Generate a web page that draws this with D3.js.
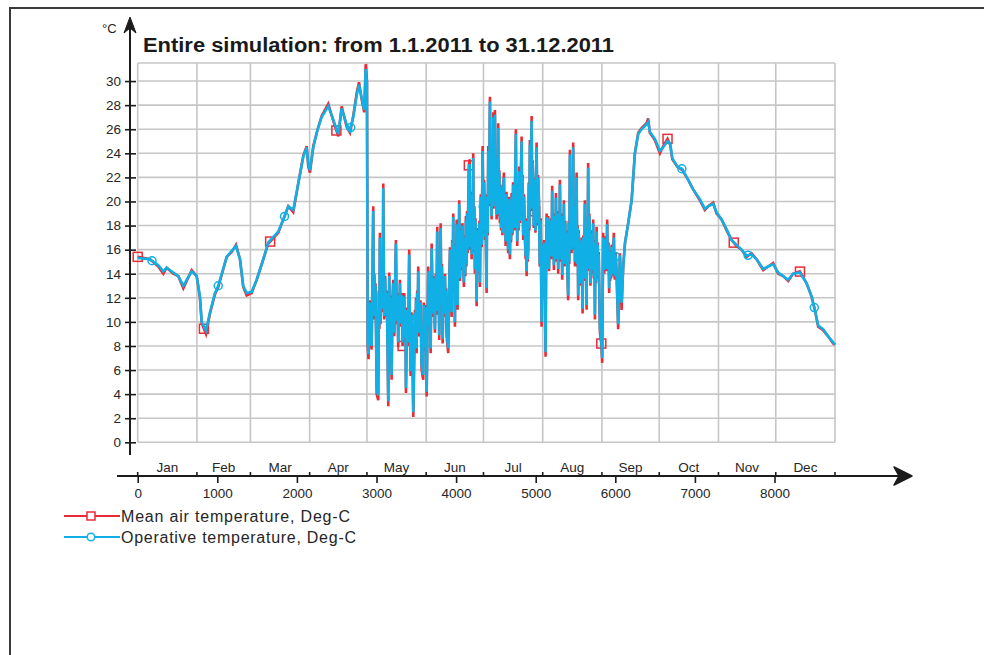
<!DOCTYPE html>
<html>
<head>
<meta charset="utf-8">
<script src="https://cdn.jsdelivr.net/npm/d3@7"></script>
<style>
  body { margin: 0; background: #fff; }
  svg { display: block; }
  text { font-family: "Liberation Sans", Arial, sans-serif; fill: #262626; }
</style>
</head>
<body>
<svg id="chart" width="984" height="655"></svg>
<script>
// Simulation hour of each sampled point (0 = 1 Jan 2011 00:00)
const hours = [
  // Jan - Apr
  0,154,259,322,364,447,510,573,678,741,
  782,804,858,908,971,1012,1118,1181,1235,1285,
  1326,1369,1432,1495,1578,1640,1766,1829,1892,1954,
  2017,2080,2123,2143,2164,2206,2261,2311,2394,2457,
  2520,2562,2625,2667,2708,2751,2780,2813,2846,2864,
  2880,
  // May - early Jun
  2890,2900,2913,2926,2939,2959,2966,2973,2980,2987,
  2995,3002,3022,3029,3036,3043,3050,3058,3065,3072,
  3078,3085,3096,3108,3119,3129,3138,3148,3160,3170,
  3180,3190,3200,3210,3223,3233,3244,3254,3263,3273,
  3280,3287,3294,3305,3316,3328,3335,3342,3349,3356,
  3363,3370,3384,3397,3411,3420,3429,3440,3451,3462,
  3483,3490,3497,3504,3511,3517,3524,3538,3552,3567,
  3587,3594,3602,3609,3616,3623,3630,3650,3660,3670,
  3680,3693,3707,3720,3734,3744,3753,3763,3771,3780,
  3788,3806,3814,3822,3831,3841,3850,3860,3867,3874,
  3881,3901,
  // Jun - early Sep
  3914,3924,3934,3944,3951,3958,3964,3971,3978,3985,
  3992,4000,4007,4011,4015,4019,4026,4033,4039,4049,
  4059,4069,4079,4089,4098,4106,4115,4123,4130,4138,
  4145,4152,4160,4170,4178,4187,4195,4202,4209,4215,
  4222,4229,4236,4243,4250,4258,4265,4272,4278,4285,
  4292,4299,4310,4322,4333,4343,4352,4362,4369,4376,
  4383,4390,4397,4404,4411,4418,4425,4432,4439,4446,
  4453,4460,4466,4473,4481,4488,4495,4502,4509,4516,
  4522,4529,4536,4543,4550,4557,4565,4572,4582,4591,
  4601,4608,4615,4622,4633,4644,4655,4662,4669,4676,
  4683,4690,4697,4707,4716,4726,4734,4742,4751,4757,
  4762,4768,4776,4785,4793,4803,4813,4823,4830,4836,
  4843,4853,4863,4873,4877,4882,4886,4893,4900,4906,
  4913,4920,4927,4934,4942,4949,4956,4962,4969,4976,
  4983,4990,4997,5004,5011,5021,5030,5040,5051,5062,
  5074,5081,5087,5094,5104,5114,5124,5130,5137,5147,
  5157,5167,5177,5187,5194,5200,5207,5214,5222,5229,
  5237,5246,5254,5264,5273,5283,5290,5297,5304,5314,
  5323,5333,5340,5347,5354,5362,5371,5379,5389,5398,
  5408,5415,5422,5430,5437,5444,5451,5458,5464,5471,
  5478,5486,5493,5500,5507,5514,5521,5527,5534,5541,
  5548,5555,5566,5578,5589,5599,5608,5618,5625,5632,
  5639,5646,5652,5659,5666,5674,5681,5688,5695,5702,
  5709,5716,5722,5729,5737,5744,5751,5758,5765,5772,
  5779,5785,5792,5800,5807,5824,5835,5848,5861,5868,
  5875,5882,5890,5898,5906,5915,5923,5929,5935,5941,
  5948,5954,5961,5968,5975,5982,5988,5995,6005,6016,
  6036,6058,6079,6099,
  // Sep - Dec
  6121,6162,6205,6246,6288,6330,6393,6413,6434,6497,
  6560,6602,6656,6690,6716,6779,6842,6915,6978,7062,
  7125,7167,7230,7272,7335,7398,7461,7523,7586,7649,
  7712,7775,7858,7921,7983,8046,8109,8172,8234,8318,
  8403,8466,8507,8549,8611,8674,8737,8760
];

// Mean air temperature, Deg-C
const meanAir = [
  15.4,15.2,14.6,14.0,14.5,14.0,13.8,12.8,14.3,13.8,
  12.0,9.9,9.0,10.7,12.3,12.9,15.4,15.8,16.4,15.2,
  12.9,12.2,12.4,13.5,15.2,16.5,17.4,18.5,19.6,19.1,
  21.5,23.8,24.6,22.9,22.4,24.6,26.0,27.1,28.1,26.7,
  25.4,27.9,26.2,25.7,27.1,29.0,29.9,28.5,27.4,31.4,
  30.1,

  7.9,6.9,11.8,8.6,7.7,19.6,10.2,14.0,11.0,13.2,
  8.6,4.0,3.5,12.6,9.4,17.4,9.8,13.6,11.3,14.6,
  10.8,21.5,10.2,13.8,10.4,12.6,8.2,3.0,14.1,8.4,
  12.2,5.2,11.6,13.5,8.8,12.8,16.8,9.8,12.4,7.9,
  12.0,9.6,13.5,9.6,12.4,8.0,11.4,9.2,12.4,8.4,
  11.0,4.1,11.2,8.0,16.0,9.0,5.5,10.8,7.6,2.1,
  11.0,8.2,12.0,7.4,12.6,9.2,14.6,8.8,11.8,6.0,
  5.2,11.6,8.8,10.7,7.6,11.4,3.8,14.6,9.4,12.6,
  7.4,16.5,10.4,13.8,9.1,14.0,10.6,17.9,11.2,14.4,
  8.5,18.2,11.6,14.8,8.2,12.6,10.4,14.0,10.6,12.8,
  8.8,7.4,

  13.5,16.2,12.0,10.4,16.8,12.6,19.0,12.8,16.5,9.6,
  16.0,12.4,18.5,13.2,16.4,11.0,17.6,13.6,20.1,13.4,
  17.8,14.3,18.2,14.8,12.9,17.2,13.8,18.8,14.6,19.2,
  15.7,19.6,23.0,23.5,16.0,20.4,15.2,20.8,16.4,24.0,
  15.8,19.6,14.0,18.6,15.2,11.3,17.8,14.2,17.4,14.0,
  18.4,12.9,20.6,16.2,24.6,17.4,21.8,16.8,20.2,15.8,
  12.4,20.6,17.2,24.6,19.8,23.4,28.7,19.6,23.0,18.5,
  24.2,19.4,27.4,19.8,24.4,27.6,19.4,23.6,18.5,23.8,
  19.2,26.5,18.8,22.6,18.2,21.4,17.6,19.9,17.2,21.0,
  22.4,17.8,20.6,16.3,20.8,17.4,15.7,20.4,17.0,15.2,
  19.8,16.6,20.7,17.2,21.6,19.6,17.6,22.0,26.0,18.4,
  21.2,16.3,21.4,17.6,22.9,18.2,22.0,25.4,18.8,22.2,
  16.8,20.6,17.4,15.2,18.6,15.8,13.8,18.4,15.0,16.0,
  21.6,17.6,25.1,19.4,23.2,27.1,19.2,23.4,21.0,17.8,
  22.0,19.9,17.4,21.8,24.9,18.0,22.2,20.1,14.6,18.6,
  9.6,16.6,13.2,12.4,16.8,12.2,7.1,14.4,19.0,15.4,
  18.8,14.2,18.2,15.2,18.6,15.6,21.3,15.2,18.6,14.3,
  19.0,15.4,20.7,15.0,18.8,14.0,19.2,15.6,21.8,15.0,
  19.0,13.5,18.6,15.0,20.1,14.6,18.4,15.2,17.6,14.2,
  11.8,18.4,14.8,24.3,16.4,20.6,15.7,20.2,16.2,24.9,
  16.0,19.8,14.6,19.6,15.6,22.4,14.6,18.0,11.8,17.6,
  13.4,16.8,13.0,17.0,10.7,17.2,13.4,20.1,13.6,17.0,
  11.0,17.8,14.2,23.2,15.6,19.0,16.8,13.0,17.2,14.0,
  17.6,14.8,18.5,13.6,16.4,10.2,16.8,13.2,17.9,13.6,
  16.6,13.8,15.8,12.0,9.1,8.2,6.6,17.4,14.0,16.8,
  14.2,17.1,14.8,18.5,14.2,16.6,12.4,16.0,13.4,15.2,
  13.6,16.4,16.3,13.8,16.0,17.4,14.0,13.5,15.8,14.0,
  9.4,15.7,11.0,14.6,

  16.5,18.2,20.1,24.0,25.7,26.1,26.5,26.9,25.7,25.1,
  24.0,24.6,25.2,24.7,23.5,22.9,22.6,21.8,21.0,20.1,
  19.3,19.6,19.9,19.0,18.5,17.6,16.8,16.3,16.0,15.4,
  15.7,15.2,14.3,14.6,14.9,14.0,13.8,13.4,14.0,14.2,
  13.2,12.1,11.0,9.6,9.3,8.8,8.2,8.1
];

// Operative temperature, Deg-C
const operative = [
  15.3,15.2,14.7,14.2,14.5,14.1,13.8,13.0,14.2,13.8,
  12.1,10.0,9.3,10.8,12.4,13.0,15.4,15.9,16.3,15.2,
  13.0,12.4,12.5,13.5,15.2,16.6,17.5,18.5,19.6,19.3,
  21.5,23.7,24.5,23.1,22.6,24.5,26.0,27.0,27.9,26.8,
  25.6,27.7,26.4,25.9,27.0,28.8,29.7,28.6,27.6,31.0,
  29.9,

  8.2,7.3,11.6,8.9,8.0,19.2,10.5,13.8,11.3,13.0,
  8.9,4.4,3.9,12.4,9.7,17.0,10.1,13.4,11.6,14.4,
  11.1,21.1,10.5,13.6,10.7,12.4,8.5,3.4,13.8,8.7,
  12.0,5.6,11.4,13.2,9.1,12.6,16.5,10.1,12.2,8.3,
  11.8,9.9,13.2,9.9,12.2,8.3,11.2,9.5,12.1,8.7,
  10.8,4.5,11.0,8.3,15.6,9.3,5.9,10.6,7.9,2.5,
  10.7,8.5,11.8,7.8,12.4,9.5,14.2,9.1,11.6,6.4,
  5.6,11.4,9.1,10.4,7.9,11.2,4.2,14.2,9.7,12.4,
  7.8,16.1,10.7,13.6,9.4,13.8,10.9,17.5,11.5,14.2,
  8.9,17.8,11.9,14.6,8.6,12.4,10.7,13.8,10.9,12.6,
  9.1,7.8,

  13.2,16.0,12.2,10.8,16.6,12.8,18.7,13.0,16.3,10.0,
  15.8,12.6,18.1,13.4,16.2,11.4,17.4,13.8,19.8,13.6,
  17.6,14.5,18.0,15.0,13.3,17.0,14.0,18.4,14.8,19.0,
  16.0,19.4,22.7,23.1,16.2,20.2,15.6,20.6,16.6,23.6,
  16.0,19.4,14.4,18.4,15.4,11.7,17.6,14.4,17.1,14.2,
  18.2,13.3,20.4,16.4,24.2,17.6,21.6,17.1,20.0,16.0,
  12.8,20.4,17.4,24.2,20.0,23.2,28.3,19.8,22.8,18.8,
  24.0,19.6,27.0,20.0,24.2,27.2,19.6,23.4,18.9,23.6,
  19.4,26.1,19.0,22.4,18.6,21.2,17.8,19.7,17.4,20.8,
  22.0,18.0,20.4,16.7,20.6,17.6,16.0,20.2,17.2,15.6,
  19.6,16.8,20.4,17.4,21.4,19.8,17.8,21.8,25.6,18.6,
  21.0,16.7,21.2,17.8,22.5,18.4,21.8,25.0,19.0,22.0,
  17.2,20.4,17.6,15.5,18.4,16.0,14.2,18.2,15.2,16.2,
  21.4,17.8,24.7,19.6,23.0,26.7,19.4,23.2,21.3,18.0,
  21.8,20.1,17.6,21.6,24.5,18.2,22.0,20.4,14.8,18.4,
  10.0,16.4,13.4,12.1,16.6,12.4,7.5,14.2,18.7,15.6,
  18.6,14.4,18.0,15.5,18.4,15.8,20.9,15.4,18.4,14.7,
  18.8,15.6,20.3,15.2,18.6,14.4,19.0,15.8,21.4,15.2,
  18.8,13.9,18.4,15.2,19.8,14.8,18.2,15.5,17.4,14.4,
  12.2,18.2,15.0,23.9,16.6,20.4,16.0,20.0,16.4,24.5,
  16.2,19.6,15.0,19.4,15.8,22.0,14.8,17.8,12.2,17.4,
  13.6,16.6,13.2,16.8,11.1,17.0,13.6,19.8,13.8,16.8,
  11.4,17.6,14.4,22.8,15.8,18.8,17.0,13.2,17.0,14.3,
  17.4,15.0,18.2,13.8,16.2,10.6,16.6,13.4,17.5,13.8,
  16.4,14.1,15.6,12.2,9.5,8.5,7.0,17.0,14.3,16.6,
  14.4,16.9,15.0,18.1,14.4,16.4,12.8,15.8,13.6,15.3,
  13.8,16.2,16.1,14.0,15.8,17.0,14.2,13.8,15.6,14.0,
  9.8,15.5,11.6,14.5,

  16.5,18.2,20.1,24.0,25.6,26.0,26.4,26.6,25.8,25.2,
  24.2,24.5,25.0,24.8,23.6,22.9,22.7,21.8,21.0,20.2,
  19.4,19.6,19.8,19.1,18.5,17.7,16.8,16.4,16.0,15.5,
  15.6,15.2,14.4,14.6,14.8,14.1,13.8,13.5,14.0,14.1,
  13.2,12.1,11.0,9.7,9.4,8.8,8.3,8.1
];

// Calendar
const monthNames = ["Jan","Feb","Mar","Apr","May","Jun","Jul","Aug","Sep","Oct","Nov","Dec"];
const monthBounds = [0,744,1416,2160,2880,3624,4344,5088,5832,6552,7296,8016,8760];

// Axis ticks
const yTickValues = [0,2,4,6,8,10,12,14,16,18,20,22,24,26,28,30];
const xTickValues = [0,1000,2000,3000,4000,5000,6000,7000,8000];

// Marker positions along each curve (simulation hours)
const squareHours = [0,832,1664,2496,3328,4160,4992,5824,6656,7488,8320];
const circleHours = [180,1012,1844,2676,3508,4340,5172,6004,6836,7668,8500];

const titleText = "Entire simulation: from 1.1.2011 to 31.12.2011";
const legendLabels = ["Mean air temperature, Deg-C", "Operative temperature, Deg-C"];

const RED = "#ea2c36";
const BLUE = "#10b0e6";
const GRID = "#c6c6c6";
const INK = "#1c1c1c";

const svg = d3.select("#chart");

const x = d3.scaleLinear().domain([0, 8760]).range([137.7, 835]);
const y = d3.scaleLinear().domain([0, 31.5]).range([442.3, 63]);

// outer frame
svg.append("path")
  .attr("d", "M10,655 L10,8 L984,8")
  .attr("fill", "none").attr("stroke", "#3a3a3a").attr("stroke-width", 2);

// grid
const grid = svg.append("g");
grid.selectAll("line.h").data(yTickValues.concat([31.5])).join("line")
  .attr("x1", x(0)).attr("x2", x(8760))
  .attr("y1", d => y(d)).attr("y2", d => y(d))
  .attr("stroke", GRID).attr("stroke-width", 1.6);
grid.selectAll("line.v").data(monthBounds).join("line")
  .attr("x1", d => x(d)).attr("x2", d => x(d))
  .attr("y1", y(0)).attr("y2", y(31.5))
  .attr("stroke", GRID).attr("stroke-width", 1.6);

// title
svg.append("text")
  .attr("x", 143).attr("y", 52)
  .attr("font-size", 20).attr("font-weight", "bold")
  .attr("textLength", 471).attr("lengthAdjust", "spacingAndGlyphs")
  .style("fill", "#1a1a1a")
  .text(titleText);

// y axis
const yAxisX = 130;
const yAxis = d3.axisLeft(y).tickValues(yTickValues).tickSize(5).tickPadding(4).tickFormat(d3.format("d"));
const yg = svg.append("g").attr("transform", `translate(${yAxisX},0)`).call(yAxis);
yg.select(".domain").remove();
yg.selectAll(".tick line").attr("x1", -5).attr("x2", 6).attr("stroke", INK).attr("stroke-width", 1.6);
yg.selectAll(".tick text").attr("font-size", 13.5).attr("font-family", null).style("fill", "#262626");
svg.append("line").attr("x1", yAxisX).attr("x2", yAxisX).attr("y1", 24).attr("y2", 455)
  .attr("stroke", INK).attr("stroke-width", 2);
svg.append("path")
  .attr("d", `M${yAxisX},17 L${yAxisX + 6},33 L${yAxisX},28 L${yAxisX - 6},33 Z`)
  .attr("fill", INK).attr("stroke", INK).attr("stroke-width", 1).attr("stroke-linejoin", "round");
svg.append("text").attr("x", 102).attr("y", 33).attr("font-size", 13).text("°C");

// x axis
const xAxisY = 476;
const xAxis = d3.axisBottom(x).tickValues(xTickValues).tickSize(7).tickPadding(5).tickFormat(d3.format("d"));
const xg = svg.append("g").attr("transform", `translate(0,${xAxisY})`).call(xAxis);
xg.select(".domain").remove();
xg.selectAll(".tick line").attr("stroke", INK).attr("stroke-width", 1.6);
xg.selectAll(".tick text").attr("font-size", 13.5).attr("font-family", null).style("fill", "#262626");
svg.append("line").attr("x1", 117).attr("x2", 904).attr("y1", xAxisY).attr("y2", xAxisY)
  .attr("stroke", INK).attr("stroke-width", 2);
svg.append("path")
  .attr("d", `M912,${xAxisY} L894,${xAxisY - 9} L899,${xAxisY} L894,${xAxisY + 9} Z`)
  .attr("fill", INK).attr("stroke", INK).attr("stroke-width", 1.5).attr("stroke-linejoin", "round");

// month ticks and labels
svg.append("g").selectAll("line").data(monthBounds).join("line")
  .attr("x1", d => x(d)).attr("x2", d => x(d))
  .attr("y1", xAxisY - 4).attr("y2", xAxisY)
  .attr("stroke", INK).attr("stroke-width", 1.6);
svg.append("g").selectAll("text").data(monthNames).join("text")
  .attr("x", (d, i) => x((monthBounds[i] + monthBounds[i + 1]) / 2))
  .attr("y", 472)
  .attr("text-anchor", "middle")
  .attr("font-size", 13.5)
  .text(d => d);

// series
const pts = vals => hours.map((h, i) => [h, vals[i]]);
const line = d3.line().x(d => x(d[0])).y(d => y(d[1]));
const valueAt = (vals, h) => {
  const i = d3.bisectLeft(hours, h);
  if (i <= 0) return vals[0];
  if (i >= hours.length) return vals[vals.length - 1];
  const t = (h - hours[i - 1]) / (hours[i] - hours[i - 1]);
  return vals[i - 1] + t * (vals[i] - vals[i - 1]);
};

const plot = svg.append("g");
plot.append("path").datum(pts(meanAir)).attr("d", line)
  .attr("fill", "none").attr("stroke", RED).attr("stroke-width", 2.6).attr("stroke-linejoin", "miter");
plot.selectAll("rect.sq").data(squareHours).join("rect")
  .attr("x", d => x(d) - 4.5).attr("y", d => y(valueAt(meanAir, d)) - 4.5)
  .attr("width", 9).attr("height", 9)
  .attr("fill", "none").attr("stroke", RED).attr("stroke-width", 1.5);
plot.append("path").datum(pts(operative)).attr("d", line)
  .attr("fill", "none").attr("stroke", BLUE).attr("stroke-width", 2.6).attr("stroke-linejoin", "miter");
plot.selectAll("circle.ci").data(circleHours).join("circle")
  .attr("cx", d => x(d)).attr("cy", d => y(valueAt(operative, d)))
  .attr("r", 4)
  .attr("fill", "none").attr("stroke", BLUE).attr("stroke-width", 1.5);

// legend
const legend = svg.append("g");
const legendRows = [
  { label: legendLabels[0], color: RED, shape: "square", y: 516, len: 229 },
  { label: legendLabels[1], color: BLUE, shape: "circle", y: 537, len: 235 }
];
legendRows.forEach(r => {
  legend.append("line").attr("x1", 64).attr("x2", 120).attr("y1", r.y).attr("y2", r.y)
    .attr("stroke", r.color).attr("stroke-width", 2);
  if (r.shape === "square") {
    legend.append("rect").attr("x", 87).attr("y", r.y - 4).attr("width", 8).attr("height", 8)
      .attr("fill", "#fff").attr("stroke", r.color).attr("stroke-width", 1.5);
  } else {
    legend.append("circle").attr("cx", 91).attr("cy", r.y).attr("r", 3.8)
      .attr("fill", "#fff").attr("stroke", r.color).attr("stroke-width", 1.5);
  }
  legend.append("text").attr("x", 121).attr("y", r.y + 6)
    .attr("font-size", 16)
    .attr("textLength", r.len).attr("lengthAdjust", "spacing")
    .text(r.label);
});
</script>
</body>
</html>
